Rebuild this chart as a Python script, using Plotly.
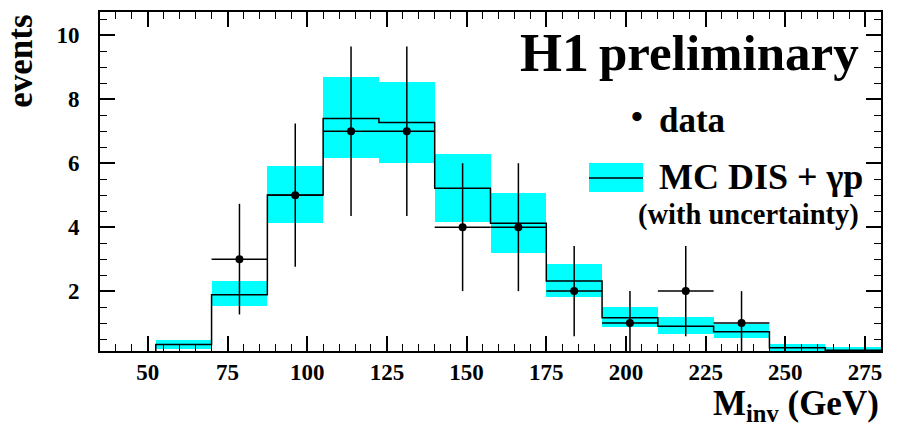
import plotly.graph_objects as go

# ---------------- data ----------------
bin_edges = [52.5, 70, 87.5, 105, 122.5, 140, 157.5, 175, 192.5, 210, 227.5, 245, 262.5, 280]
mc_value = [0.33, 1.89, 5.01, 7.40, 7.27, 5.22, 4.12, 2.32, 1.17, 0.90, 0.73, 0.23, 0.15]
mc_low = [0.19, 1.52, 4.12, 6.17, 6.00, 4.17, 3.20, 1.81, 0.88, 0.66, 0.54, 0.10, 0.05]
mc_high = [0.47, 2.31, 5.92, 8.69, 8.54, 6.29, 5.06, 2.84, 1.49, 1.18, 0.97, 0.34, 0.26]

data_bins = [1, 2, 3, 4, 5, 6, 7, 8, 9, 10]          # bin indices with data
data_counts = [3, 5, 7, 7, 4, 4, 2, 1, 2, 1]
data_err = [1.73, 2.24, 2.65, 2.65, 2.0, 2.0, 1.41, 1.0, 1.41, 1.0]

x_ticks = [50, 75, 100, 125, 150, 175, 200, 225, 250, 275]
y_ticks = [2, 4, 6, 8, 10]

# ---------------- derived ----------------
centers = [(bin_edges[i] + bin_edges[i + 1]) / 2 for i in range(len(mc_value))]
widths = [bin_edges[i + 1] - bin_edges[i] for i in range(len(mc_value))]
data_x = [centers[i] for i in data_bins]
data_xerr = [widths[i] / 2 for i in data_bins]

FONT = "Liberation Serif"
W, H = 898, 429
ML, MR, MT, MB = 100, 17, 10, 78
PW, PH = W - ML - MR, H - MT - MB


def px(xpix):
    return (xpix - ML) / PW


def py(ypix):
    return (H - MB - ypix) / PH


fig = go.Figure()

# MC uncertainty band
fig.add_trace(go.Bar(
    x=centers,
    y=[h - l for h, l in zip(mc_high, mc_low)],
    base=mc_low,
    width=widths,
    marker=dict(color="#00FFFF", line=dict(width=0)),
    showlegend=False,
    hoverinfo="skip",
))

# MC histogram outline
step_x = [bin_edges[0]] + bin_edges
step_y = [0] + mc_value + [mc_value[-1]]
fig.add_trace(go.Scatter(
    x=step_x, y=step_y, mode="lines",
    line=dict(shape="hv", color="black", width=1.5),
    showlegend=False, hoverinfo="skip",
))

# data points
fig.add_trace(go.Scatter(
    x=data_x, y=data_counts, mode="markers",
    marker=dict(color="black", size=8),
    error_y=dict(type="data", array=data_err, color="black", thickness=1.5, width=0),
    error_x=dict(type="data", array=data_xerr, color="black", thickness=1.5, width=0),
    showlegend=False,
))

axis_common = dict(
    showline=True, linecolor="black", linewidth=2, mirror="allticks",
    ticks="inside", ticklen=15, tickwidth=1.5, tickcolor="black",
    showgrid=False, zeroline=False,
    tickfont=dict(family=FONT, size=23, color="black", weight="bold"),
)

fig.update_layout(
    width=W, height=H,
    margin=dict(l=ML, r=MR, t=MT, b=MB),
    plot_bgcolor="white", paper_bgcolor="white",
    bargap=0,
    xaxis=dict(
        range=[35, 280], tickvals=x_ticks,
        minor=dict(dtick=5, tick0=0, ticklen=7, tickwidth=1, tickcolor="black", ticks="inside"),
        ticklabelstandoff=-1,
        **axis_common,
    ),
    yaxis=dict(
        range=[0.127, 10.73], tickvals=y_ticks,
        minor=dict(dtick=0.5, tick0=0, ticklen=7, tickwidth=1, tickcolor="black", ticks="inside"),
        ticklabelstandoff=14,
        **axis_common,
    ),
)

ann = []
# axis titles
ann.append(dict(text="events", textangle=-90, xref="paper", yref="paper",
                x=px(21), y=py(60), xanchor="center", yanchor="middle", showarrow=False,
                font=dict(family=FONT, size=35, color="black", weight="bold")))
ann.append(dict(text="M<sub>inv</sub> (GeV)", xref="paper", yref="paper",
                x=px(881), y=py(406), xanchor="right", yanchor="middle", showarrow=False,
                font=dict(family=FONT, size=35, color="black", weight="bold")))
# H1 preliminary
ann.append(dict(text="H1", xref="paper", yref="paper",
                x=px(591), y=py(51), xanchor="right", yanchor="middle", showarrow=False,
                font=dict(family=FONT, size=54, color="black", weight="bold")))
ann.append(dict(text="preliminary", xref="paper", yref="paper",
                x=px(597), y=py(51), xanchor="left", yanchor="middle", showarrow=False,
                font=dict(family=FONT, size=51, color="black", weight="bold")))
# legend
ann.append(dict(text="\u2022", xref="paper", yref="paper",
                x=px(637), y=py(115), xanchor="center", yanchor="middle", showarrow=False,
                font=dict(family=FONT, size=34, color="black", weight="bold")))
ann.append(dict(text="data", xref="paper", yref="paper",
                x=px(657), y=py(119), xanchor="left", yanchor="middle", showarrow=False,
                font=dict(family=FONT, size=35, color="black", weight="bold")))
ann.append(dict(text="MC DIS + \u03b3p", xref="paper", yref="paper",
                x=px(657), y=py(176), xanchor="left", yanchor="middle", showarrow=False,
                font=dict(family=FONT, size=36, color="black", weight="bold")))
ann.append(dict(text="(with uncertainty)", xref="paper", yref="paper",
                x=px(861), y=py(214), xanchor="right", yanchor="middle", showarrow=False,
                font=dict(family=FONT, size=28.5, color="black", weight="bold")))
fig.update_layout(annotations=ann)

fig.add_shape(type="rect", xref="paper", yref="paper",
              x0=px(589), x1=px(643), y0=py(191), y1=py(162),
              fillcolor="#00FFFF", line=dict(width=0))
fig.add_shape(type="line", xref="paper", yref="paper",
              x0=px(589), x1=px(643), y0=py(177), y1=py(177),
              line=dict(color="black", width=1.5))

fig.write_html("out.html", config={"displayModeBar": False},
               post_script="document.body.style.margin='0';")
